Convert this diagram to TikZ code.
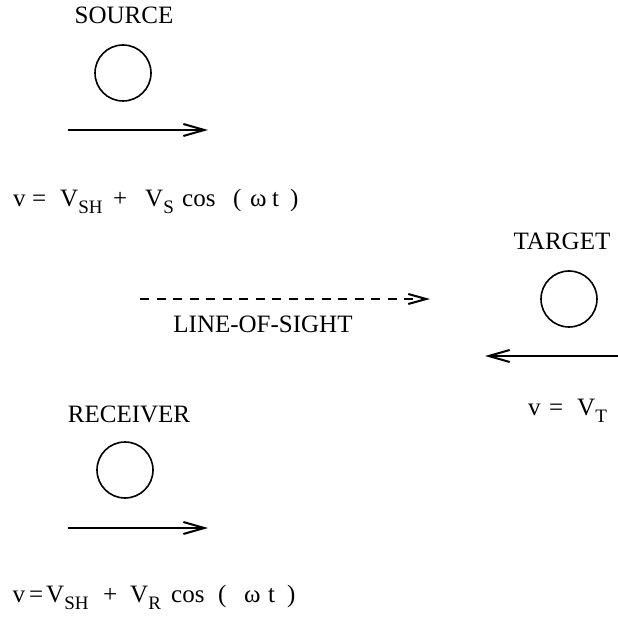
\documentclass[tikz,border=0pt]{standalone}
\usepackage{fontspec}
\setmainfont{Liberation Serif}
\usetikzlibrary{arrows.meta}
\newcommand{\tok}[2]{\makebox[#1][l]{#2}}
\newcommand{\sbsc}[1]{\raisebox{-7pt}{\fontsize{19}{19}\selectfont #1}}
\tikzset{
  lbl/.style={inner sep=0pt, font=\fontsize{25}{25}\selectfont},
  body/.style={circle, draw, line width=1.6pt, minimum size=56pt, inner sep=0pt},
  motion/.style={line width=2pt, -{Straight Barb[length=21pt,width=12pt,line width=2pt]}},
  sight/.style={line width=1.7pt, dash pattern=on 9pt off 7.5pt, -{Straight Barb[length=18pt,width=10pt,line width=2pt]}}
}
\begin{document}
\begin{tikzpicture}[x=1pt,y=-1pt]
\useasboundingbox (0,0) rectangle (618,617);

% source
\node[lbl, anchor=base] (srclbl) at (124,24) {SOURCE};
\node[body] (src) at (123,73) {};
\coordinate (sa) at (68,130);
\coordinate (sb) at (208,130);
\draw[motion] (sa) -- (sb);
\node[lbl, anchor=base west] (eqs) at (13,207) {\tok{19pt}{v}\tok{28pt}{=}\tok{53pt}{V\sbsc{SH}}\tok{32pt}{+}\tok{37pt}{V\sbsc{S}}\tok{51pt}{cos}\tok{17pt}{(}\tok{22pt}{ω}\tok{18pt}{t})};

% target
\node[lbl, anchor=base] (tgtlbl) at (562,250) {TARGET};
\node[body] (tgt) at (569,299) {};
\coordinate (ta) at (618,356);
\coordinate (tb) at (485,356);
\draw[motion] (ta) -- (tb);
\node[lbl, anchor=base west] (eqt) at (528,415) {\tok{21pt}{v}\tok{28pt}{=}V\sbsc{T}};

% line of sight
\coordinate (la) at (140,299);
\coordinate (lb) at (430,299);
\draw[sight] (la) -- (lb);
\node[lbl, anchor=base] (loslbl) at (263,333) {LINE-OF-SIGHT};

% receiver
\node[lbl, anchor=base] (rcvlbl) at (129,422) {RECEIVER};
\node[body] (rcv) at (125,470) {};
\coordinate (ra) at (68,528);
\coordinate (rb) at (208,528);
\draw[motion] (ra) -- (rb);
\node[lbl, anchor=base west] (eqr) at (12.5,602) {\tok{16.5pt}{v}\tok{17pt}{=}\tok{57pt}{V\sbsc{SH}}\tok{27pt}{+}\tok{41pt}{V\sbsc{R}}\tok{47pt}{cos}\tok{26pt}{(}\tok{24pt}{ω}\tok{19pt}{t})};
\end{tikzpicture}
\end{document}
